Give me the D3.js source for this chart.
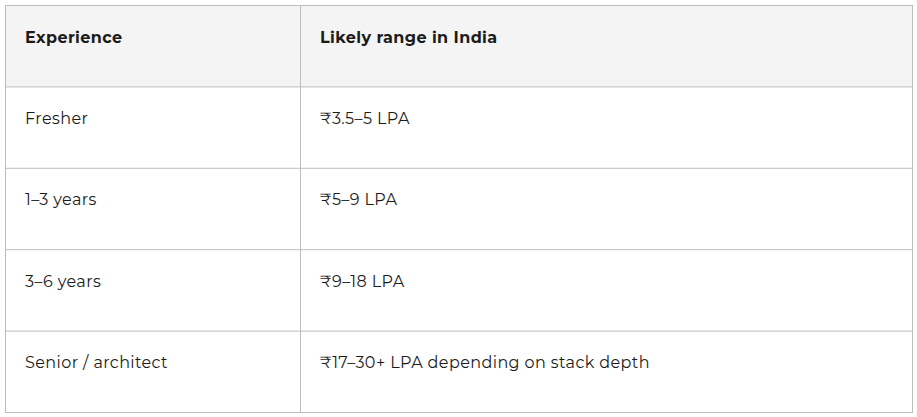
<!DOCTYPE html>
<html><head><meta charset="utf-8">
<script src="https://cdn.jsdelivr.net/npm/d3@7"></script>
<style>body{margin:0;background:#fff}</style></head>
<body><svg id="c" width="917" height="417"></svg>
<script>
const headers = ["Experience", "Likely range in India"];
const experience = ["Fresher", "1–3 years", "3–6 years", "Senior / architect"];
const ranges = ["₹3.5–5 LPA", "₹5–9 LPA", "₹9–18 LPA", "₹17–30+ LPA depending on stack depth"];

const svg = d3.select("#c");
const rowsAll = [headers].concat(experience.map((e, i) => [e, ranges[i]]));
const y = d3.scaleBand().domain(d3.range(rowsAll.length)).range([5.5, 412.5]);
const colX = [5.5, 300.5, 912.5];
const font = "Montserrat, Inter, 'Noto Sans', sans-serif";

const g = svg.selectAll("g.row").data(rowsAll).join("g").attr("class", "row");
g.append("rect").attr("x", colX[0]).attr("y", (d, i) => y(i))
  .attr("width", colX[2] - colX[0]).attr("height", y.bandwidth())
  .attr("fill", (d, i) => i === 0 ? "#f4f4f4" : "#fff");
g.each(function(d, i) {
  d3.select(this).selectAll("text").data(d).join("text")
    .attr("x", (t, j) => colX[j] + 19.5)
    .attr("y", y(i) + 37)
    .attr("font-family", font)
    .attr("font-size", 16)
    .attr("letter-spacing", 0.4)
    .attr("font-weight", i === 0 ? 700 : 400)
    .attr("fill", "#1b1b1b")
    .text(t => t);
});
svg.selectAll("line.h").data(d3.range(1, rowsAll.length)).join("line")
  .attr("x1", colX[0]).attr("x2", colX[2])
  .attr("y1", i => y(i)).attr("y2", i => y(i))
  .attr("stroke", "#bdbdbd");
svg.append("line").attr("x1", colX[1]).attr("x2", colX[1]).attr("y1", 5.5).attr("y2", 412.5).attr("stroke", "#bdbdbd");
svg.append("rect").attr("x", 5.5).attr("y", 5.5).attr("width", 907).attr("height", 407)
  .attr("fill", "none").attr("stroke", "#bdbdbd");
</script></body></html>
